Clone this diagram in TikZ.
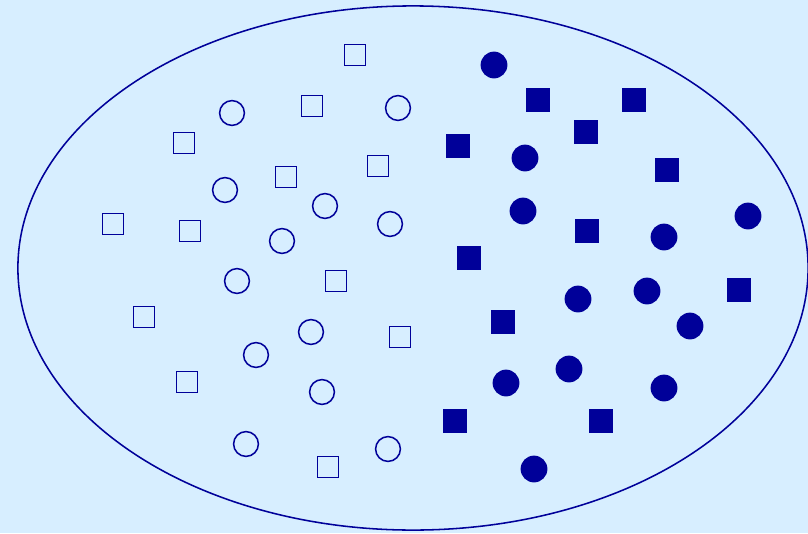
\documentclass[tikz,border=0pt]{standalone}
\usepackage{tikz}
\usetikzlibrary{shapes.geometric}

\definecolor{paleblue}{RGB}{215,238,255}
\definecolor{deepblue}{RGB}{0,0,153}

\begin{document}
\begin{tikzpicture}[x=0.025cm, y=-0.025cm,
    hsq/.style={rectangle, draw=deepblue, line width=1.1pt, minimum size=0.52cm, inner sep=0pt},
    hcirc/.style={circle, draw=deepblue, line width=1.1pt, minimum size=0.62cm, inner sep=0pt},
    fsq/.style={rectangle, fill=deepblue, minimum size=0.58cm, inner sep=0pt},
    fcirc/.style={circle, fill=deepblue, minimum size=0.67cm, inner sep=0pt}]
        % Background and the surrounding set
        \fill[paleblue] (0,0) rectangle (808,533);
        \useasboundingbox (0,0) rectangle (808,533);
        \node[ellipse, draw=deepblue, line width=1.1pt, minimum width=19.75cm, minimum height=13.1cm, inner sep=0pt] (set) at (413,268) {};
        
        % Open squares
        \foreach \p [count=\i] in {(355,55), (312,106), (184,143), (286,177), (378,166), (113,224),
                (190,231), (336,281), (144,317), (400,337), (187,382), (328,467)}
            \node[hsq] (hs\i) at \p {};
        
        % Open circles
        \foreach \p [count=\i] in {(232,113), (398,108), (225,190), (325,206), (282,241), (390,224),
                (237,281), (311,332), (256,355), (322,392), (246,444), (388,449)}
            \node[hcirc] (hc\i) at \p {};
        
        % Filled squares
        \foreach \p [count=\i] in {(538,100), (634,100), (586,132), (458,146), (667,170), (587,231),
                (469,258), (739,290), (503,322), (455,421), (601,421)}
            \node[fsq] (fs\i) at \p {};
        
        % Filled circles
        \foreach \p [count=\i] in {(494,65), (525,158), (523,211), (748,216), (664,237), (578,299),
                (647,291), (690,326), (506,383), (569,369), (664,388), (534,469)}
            \node[fcirc] (fc\i) at \p {};
        
    \end{tikzpicture}
\end{document}
